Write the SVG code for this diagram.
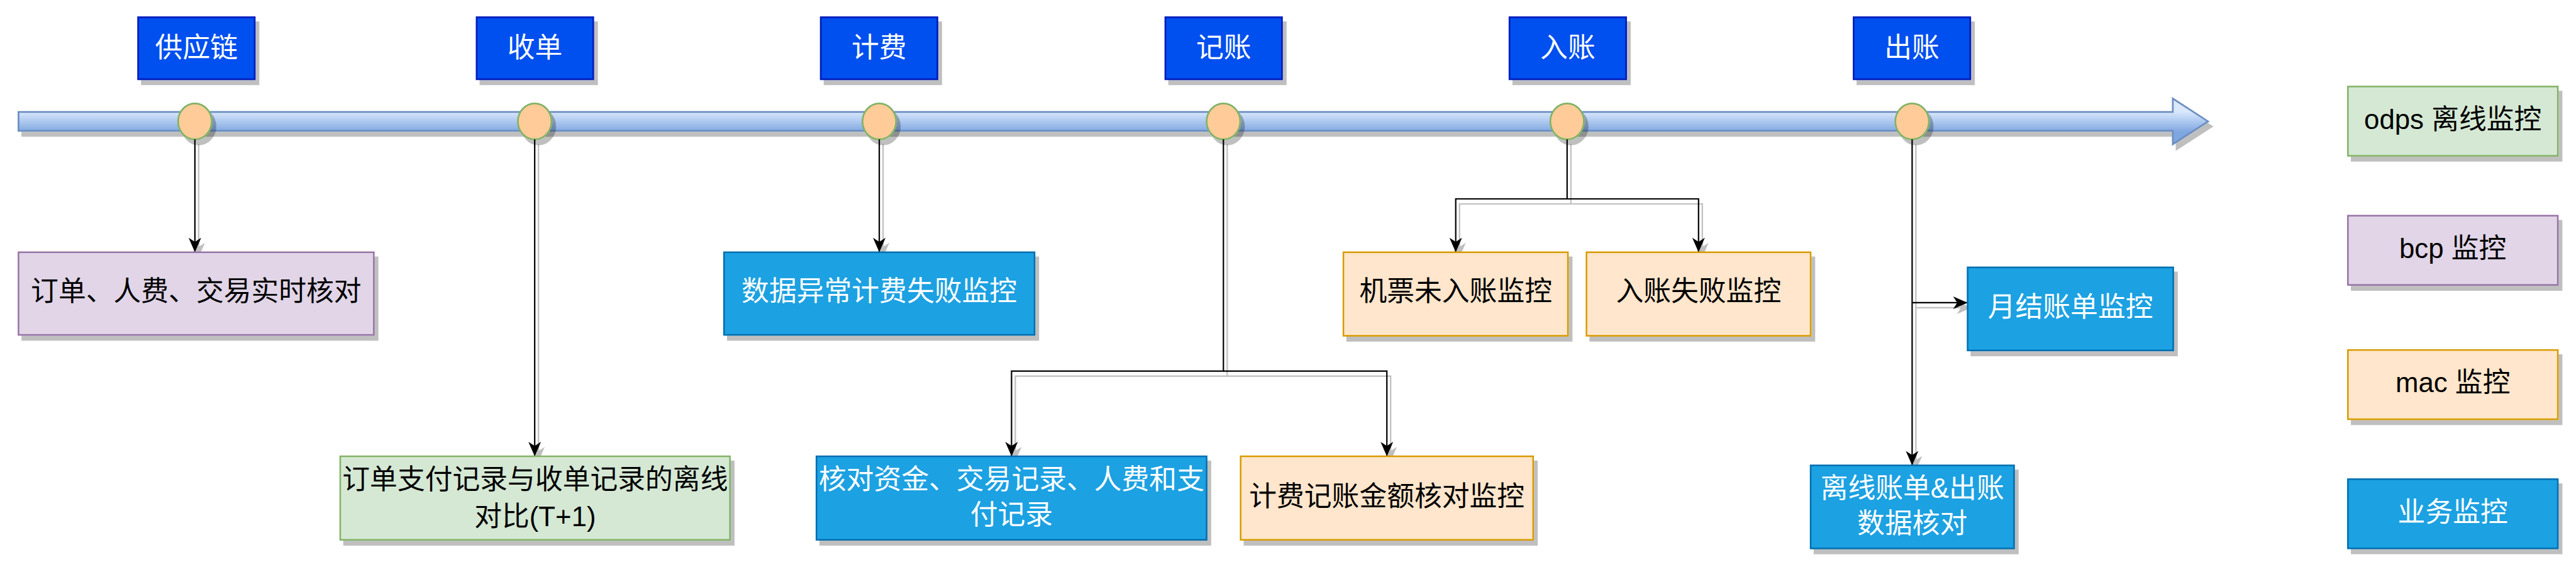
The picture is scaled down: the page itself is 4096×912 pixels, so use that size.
<svg xmlns="http://www.w3.org/2000/svg" width="4096" height="912" viewBox="0 0 4096 912">
<style>
text{font-family:'Liberation Sans','Noto Sans CJK SC',sans-serif;font-size:43.8px;text-anchor:middle;dominant-baseline:central}
.w{fill:#FFFFFF}.k{fill:#000000}
.phase{fill:#0050EF;stroke:#001DBC;stroke-width:2.7}
.dot{fill:#FFCC99;stroke:#82B366;stroke-width:2.7}
.purple{fill:#E1D5E7;stroke:#9673A6;stroke-width:2.5}
.green{fill:#D5E8D4;stroke:#82B366;stroke-width:2.5}
.orange{fill:#FFE6CC;stroke:#D79B00;stroke-width:2.5}
.blue{fill:#1BA1E2;stroke:#006EAF;stroke-width:2.5}
.edge{fill:none;stroke:#000000;stroke-width:2.2}
</style>
<defs>
<filter id="sh" filterUnits="userSpaceOnUse" x="0" y="0" width="4096" height="912">
<feOffset in="SourceAlpha" dx="5.5" dy="8" result="o"/>
<feFlood flood-color="#000000" flood-opacity="0.25"/>
<feComposite in2="o" operator="in" result="s"/>
<feMerge><feMergeNode in="s"/><feMergeNode in="SourceGraphic"/></feMerge>
</filter>
<linearGradient id="barg" gradientUnits="userSpaceOnUse" x1="0" y1="177" x2="0" y2="210">
<stop offset="0" stop-color="#DAE8FC"/><stop offset="1" stop-color="#7EA6E0"/>
</linearGradient>
<marker id="arr" markerUnits="userSpaceOnUse" viewBox="-24 -11 25 22" refX="0" refY="0" markerWidth="25" markerHeight="22" orient="auto">
<path d="M0,0 L-23,-10 L-16.5,0 L-23,10 Z" fill="#000000" stroke="none"/>
</marker>
</defs>
<rect width="4096" height="912" fill="#FFFFFF"/>

<g id="timeline">
<path d="M29.4,177.8 L3454.9,177.8 L3454.9,156.6 L3511,192.9 L3454.9,229.2 L3454.9,207.9 L29.4,207.9 Z" fill="url(#barg)" stroke="#6C8EBF" stroke-width="2.7" filter="url(#sh)"/>
</g>

<g id="dots">
<ellipse class="dot" cx="309.9" cy="192.9" rx="26.7" ry="28.5" filter="url(#sh)"/>
<ellipse class="dot" cx="850.2" cy="192.9" rx="26.7" ry="28.5" filter="url(#sh)"/>
<ellipse class="dot" cx="1398.1" cy="192.9" rx="26.7" ry="28.5" filter="url(#sh)"/>
<ellipse class="dot" cx="1945.3" cy="192.9" rx="26.7" ry="28.5" filter="url(#sh)"/>
<ellipse class="dot" cx="2491.8" cy="192.9" rx="26.7" ry="28.5" filter="url(#sh)"/>
<ellipse class="dot" cx="3040.4" cy="192.9" rx="26.7" ry="28.5" filter="url(#sh)"/>
</g>

<g id="connectors" filter="url(#sh)">
<path class="edge" d="M309.9,221.4 V400.8" marker-end="url(#arr)"/>
<path class="edge" d="M850.2,221.4 V725" marker-end="url(#arr)"/>
<path class="edge" d="M1398.1,221.4 V400.8" marker-end="url(#arr)"/>
<path class="edge" d="M1945.3,221.4 V589.6 H1608.4 V725" marker-end="url(#arr)"/>
<path class="edge" d="M1945.3,589.6 H2205.2 V725" marker-end="url(#arr)"/>
<path class="edge" d="M2491.8,221.4 V316 H2314.7 V400.8" marker-end="url(#arr)"/>
<path class="edge" d="M2491.8,316 H2700.8 V400.8" marker-end="url(#arr)"/>
<path class="edge" d="M3040.4,221.4 V739.4" marker-end="url(#arr)"/>
<path class="edge" d="M3040.4,480.9 H3128.6" marker-end="url(#arr)"/>
</g>

<g id="phase-supply"><rect class="phase" x="219.6" y="27.4" width="185.4" height="98.5" filter="url(#sh)"/><text class="w" x="312.3" y="75">供应链</text></g>
<g id="phase-collect"><rect class="phase" x="757.9" y="27.4" width="185.4" height="98.5" filter="url(#sh)"/><text class="w" x="850.6" y="75">收单</text></g>
<g id="phase-billing"><rect class="phase" x="1305.1" y="27.4" width="185.4" height="98.5" filter="url(#sh)"/><text class="w" x="1397.8" y="75">计费</text></g>
<g id="phase-record"><rect class="phase" x="1853" y="27.4" width="185.4" height="98.5" filter="url(#sh)"/><text class="w" x="1945.7" y="75">记账</text></g>
<g id="phase-posting"><rect class="phase" x="2400.2" y="27.4" width="185.4" height="98.5" filter="url(#sh)"/><text class="w" x="2492.9" y="75">入账</text></g>
<g id="phase-out"><rect class="phase" x="2947.4" y="27.4" width="185.4" height="98.5" filter="url(#sh)"/><text class="w" x="3040.1" y="75">出账</text></g>

<g id="n-realtime"><rect class="purple" x="29.4" y="400.8" width="565" height="131.3" filter="url(#sh)"/><text class="k" x="311.9" y="462.4">订单、人费、交易实时核对</text></g>
<g id="n-offline-compare"><rect class="green" x="541" y="725" width="619.7" height="132.7" filter="url(#sh)"/><text class="k" x="850.9" y="761.8">订单支付记录与收单记录的离线</text><text class="k" x="850.9" y="820.4">对比(T+1)</text></g>
<g id="n-billing-fail"><rect class="blue" x="1151.2" y="400.8" width="493.8" height="131.3" filter="url(#sh)"/><text class="w" x="1398.1" y="462.4">数据异常计费失败监控</text></g>
<g id="n-check-funds"><rect class="blue" x="1298.2" y="725" width="620.4" height="132.7" filter="url(#sh)"/><text class="w" x="1608.4" y="761">核对资金、交易记录、人费和支</text><text class="w" x="1608.4" y="817.5">付记录</text></g>
<g id="n-amount-check"><rect class="orange" x="1972.7" y="725" width="465.1" height="132.7" filter="url(#sh)"/><text class="k" x="2205.2" y="788.7">计费记账金额核对监控</text></g>
<g id="n-ticket"><rect class="orange" x="2136.1" y="400.8" width="357" height="132.7" filter="url(#sh)"/><text class="k" x="2314.7" y="462.4">机票未入账监控</text></g>
<g id="n-posting-fail"><rect class="orange" x="2522.6" y="400.8" width="356.4" height="132.7" filter="url(#sh)"/><text class="k" x="2700.8" y="462.4">入账失败监控</text></g>
<g id="n-monthly"><rect class="blue" x="3128.6" y="424.8" width="327" height="132" filter="url(#sh)"/><text class="w" x="3292.1" y="487.7">月结账单监控</text></g>
<g id="n-offline-bill"><rect class="blue" x="2879" y="739.4" width="323.5" height="132" filter="url(#sh)"/><text class="w" x="3040.7" y="775.5">离线账单&amp;出账</text><text class="w" x="3040.7" y="831">数据核对</text></g>

<g id="legend-odps"><rect class="green" x="3733.3" y="137.5" width="333.8" height="110" filter="url(#sh)"/><text class="k" x="3900.2" y="189.5">odps 离线监控</text></g>
<g id="legend-bcp"><rect class="purple" x="3733.3" y="342.7" width="333.8" height="110" filter="url(#sh)"/><text class="k" x="3900.2" y="394.3">bcp 监控</text></g>
<g id="legend-mac"><rect class="orange" x="3733.3" y="556.1" width="333.8" height="110" filter="url(#sh)"/><text class="k" x="3900.2" y="607.9">mac 监控</text></g>
<g id="legend-biz"><rect class="blue" x="3733.3" y="761.3" width="333.8" height="110" filter="url(#sh)"/><text class="w" x="3900.2" y="813.7">业务监控</text></g>
</svg>
